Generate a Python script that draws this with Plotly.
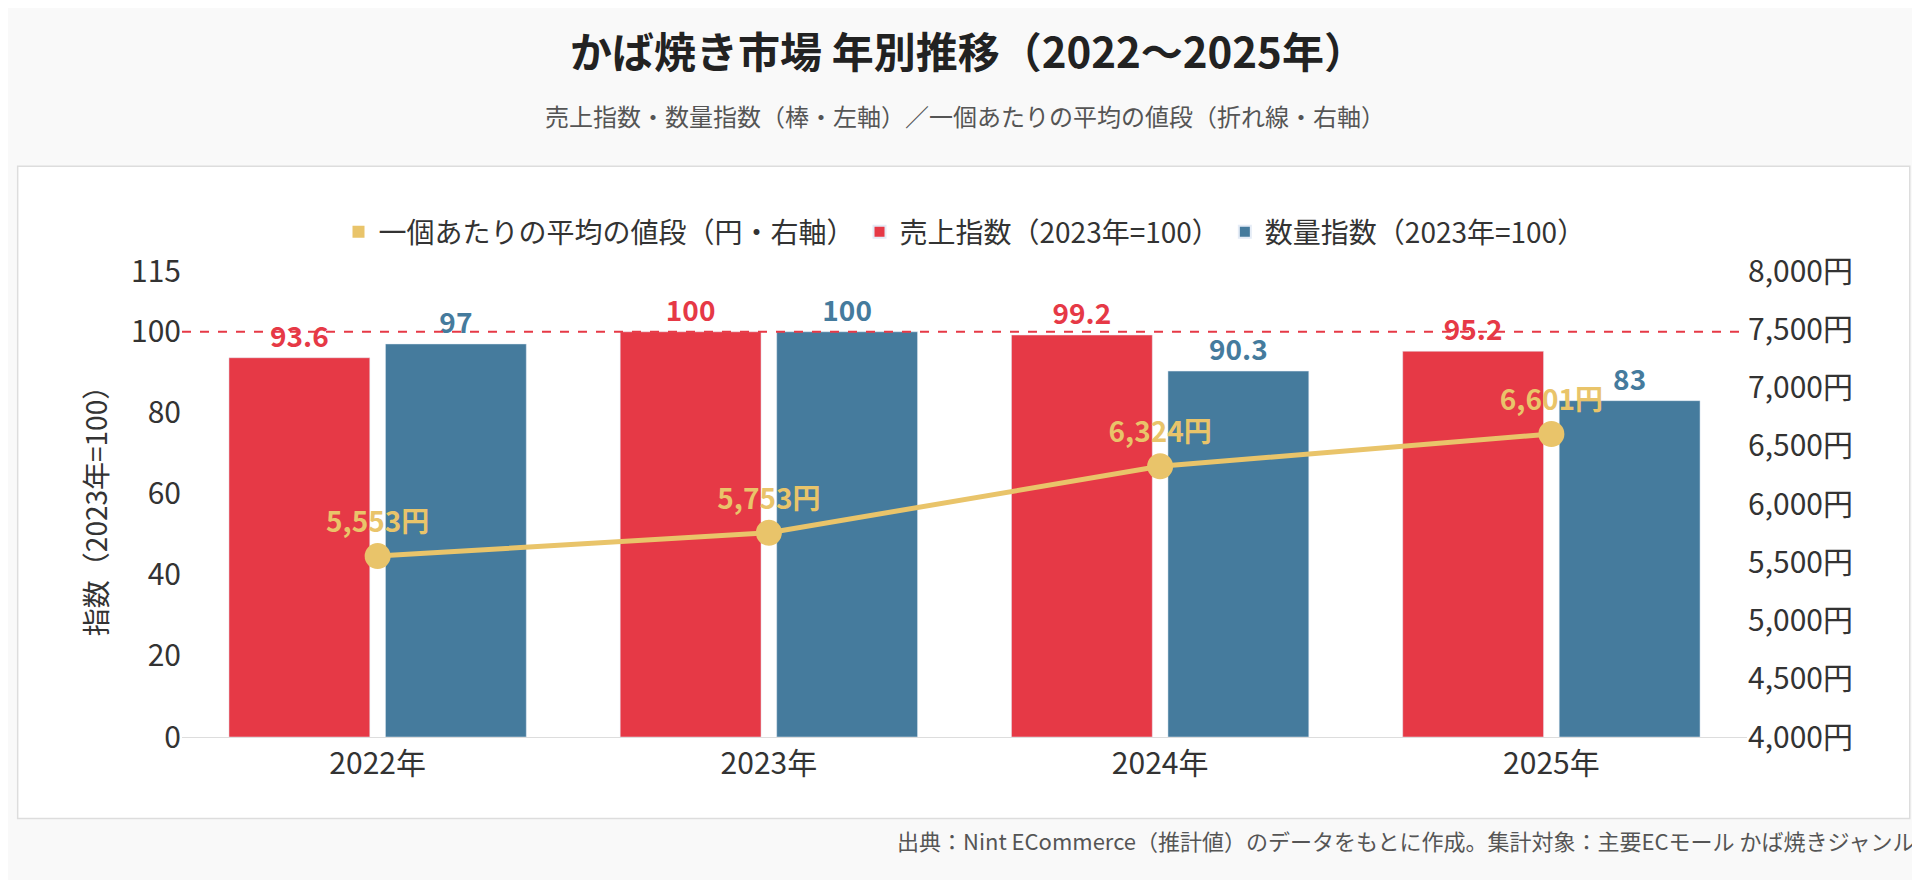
import plotly.graph_objects as go

years = ["2022年", "2023年", "2024年", "2025年"]
sales_idx = [93.6, 100, 99.2, 95.2]
qty_idx = [97, 100, 90.3, 83]
avg_price = [5553, 5753, 6324, 6601]
price_labels = ["5,553円", "5,753円", "6,324円", "6,601円"]

RED = "#e63946"
BLUE = "#457b9d"
GOLD = "#e9c46a"
FONT = "Noto Sans CJK JP"

fig = go.Figure()
fig.add_trace(go.Scatter(x=years, y=[None] * 4, name="一個あたりの平均の値段（円・右軸）", yaxis="y2",
                         mode="markers", marker=dict(symbol="square", size=20, color=GOLD)))
fig.add_trace(go.Scatter(x=years, y=avg_price, name="avg", yaxis="y2", showlegend=False,
                         mode="lines+markers+text", line=dict(color=GOLD, width=5),
                         marker=dict(size=26, color=GOLD), text=price_labels, textposition="top center",
                         textfont=dict(color=GOLD, size=28, family=FONT, weight="bold")))
fig.add_trace(go.Bar(x=years, y=sales_idx, name="売上指数（2023年=100）", marker_color=RED,
                     text=[str(v) for v in sales_idx], textposition="outside",
                     textfont=dict(color=RED, size=28, family=FONT, weight="bold"), cliponaxis=False))
fig.add_trace(go.Bar(x=years, y=qty_idx, name="数量指数（2023年=100）", marker_color=BLUE,
                     text=[str(v) for v in qty_idx], textposition="outside",
                     textfont=dict(color=BLUE, size=28, family=FONT, weight="bold"), cliponaxis=False))

fig.update_layout(
    width=1920, height=880, paper_bgcolor="#f9f9f9", plot_bgcolor="white",
    font=dict(family=FONT, size=26, color="#333"),
    margin=dict(l=174, r=181, t=263, b=151),
    barmode="group", bargap=0.2, bargroupgap=0.1,
    title=dict(text="<b>かば焼き市場 年別推移（2022〜2025年）</b>", x=0.5, xanchor="center", y=0.965,
               font=dict(size=42, color="#222")),
    legend=dict(orientation="h", x=0.5, xanchor="center", y=1.03, yanchor="bottom",
                font=dict(size=28), bgcolor="rgba(0,0,0,0)", traceorder="normal", itemsizing="constant"),
    xaxis=dict(showgrid=False, showline=True, linecolor="#ddd", tickfont=dict(size=30), ticks=""),
    yaxis=dict(range=[0, 115], tickvals=[0, 20, 40, 60, 80, 100, 115], showgrid=False,
               tickfont=dict(size=30), title=dict(text="指数（2023年=100）", font=dict(size=28)), zeroline=False),
    yaxis2=dict(range=[4000, 8000], overlaying="y", side="right", dtick=500, tickformat=",",
                ticksuffix="円", showgrid=False, tickfont=dict(size=30), zeroline=False),
    shapes=[
        dict(type="rect", xref="paper", yref="paper", x0=-0.105, x1=1.104, y0=-0.175, y1=1.225,
             fillcolor="white", line=dict(color="#ddd", width=1.5), layer="below"),
        dict(type="line", xref="paper", yref="y", x0=0, x1=1, y0=100, y1=100,
             line=dict(color=RED, width=2, dash="dash")),
    ],
    annotations=[
        dict(text="売上指数・数量指数（棒・左軸）／一個あたりの平均の値段（折れ線・右軸）", xref="paper", yref="paper",
             x=0.5, y=1.375, showarrow=False, font=dict(size=24, color="#555")),
        dict(text="出典：Nint ECommerce（推計値）のデータをもとに作成。集計対象：主要ECモール かば焼きジャンル",
             xref="paper", yref="paper", x=1.108, xanchor="right", y=-0.26, showarrow=False,
             font=dict(size=22, color="#555")),
    ],
)
fig.write_html("out.html")
